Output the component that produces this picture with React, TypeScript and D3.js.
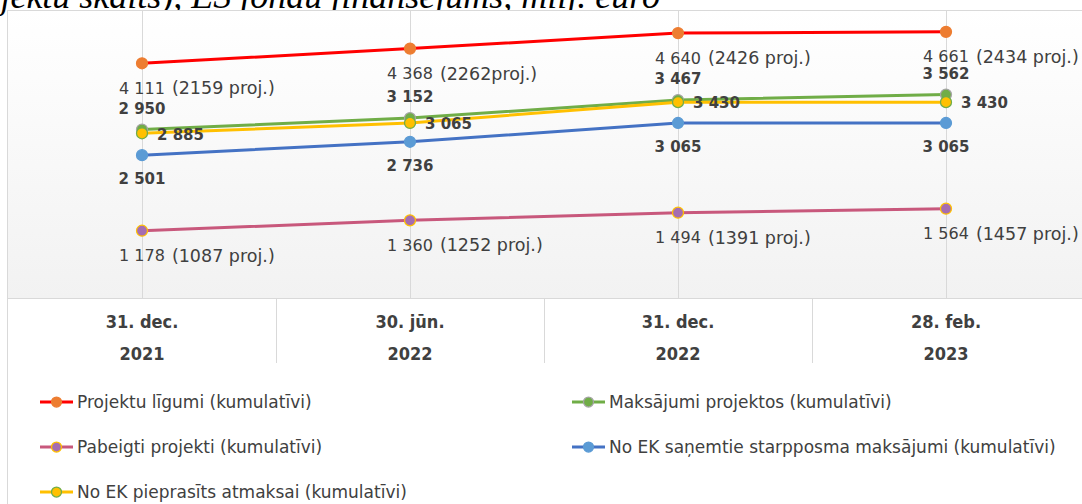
import React, { useRef, useEffect } from "react";
import * as d3 from "d3";

// categories (x axis)
const categories = ["2021-12-31", "2022-06-30", "2022-12-31", "2023-02-28"];
const dateLabels = ["31. dec.", "30. jūn.", "31. dec.", "28. feb."];
const yearLabels = ["2021", "2022", "2022", "2023"];

// series values, milj. euro
const ligumi = [4111, 4368, 4640, 4661];
const ligumiProj = ["(2159 proj.)", "(2262proj.)", "(2426 proj.)", "(2434 proj.)"];
const maksajumi = [2950, 3152, 3467, 3562];
const pieprasits = [2885, 3065, 3430, 3430];
const sanemtie = [2501, 2736, 3065, 3065];
const pabeigti = [1178, 1360, 1494, 1564];
const pabeigtiProj = ["(1087 proj.)", "(1252 proj.)", "(1391 proj.)", "(1457 proj.)"];

const seriesNames = [
  "Projektu līgumi (kumulatīvi)",
  "Maksājumi projektos (kumulatīvi)",
  "Pabeigti projekti (kumulatīvi)",
  "No EK saņemtie starpposma maksājumi (kumulatīvi)",
  "No EK pieprasīts atmaksai (kumulatīvi)",
];

const title = "(projektu skaits), ES fondu finansējums, milj. euro";

const W = 1082;
const H = 504;

export default function App() {
  const ref = useRef<SVGSVGElement>(null);

  useEffect(() => {
    document.body.style.margin = "0";
    const svg = d3.select(ref.current);
    svg.selectAll("*").remove();

    const fmt = d3.formatLocale({ thousands: " ", grouping: [3], decimal: ",", currency: ["", ""] }).format(",d");

    const x = d3.scaleBand().domain(categories).range([8, 1080]);
    const cx = (d: string) => (x(d) as number) + x.bandwidth() / 2;
    const y = d3.scaleLinear().domain([0, 5000]).range([298, 12.5]);

    const series = [
      { name: seriesNames[0], values: ligumi, proj: ligumiProj, line: "#FF0000", fill: "#ED7D31", stroke: "#ED7D31", pos: "below", bold: false },
      { name: seriesNames[1], values: maksajumi, proj: null, line: "#70AD47", fill: "#70AD47", stroke: "#A5A5A5", pos: "above", bold: true },
      { name: seriesNames[2], values: pabeigti, proj: pabeigtiProj, line: "#C8587C", fill: "#A56DB1", stroke: "#FFC000", pos: "below", bold: false },
      { name: seriesNames[3], values: sanemtie, proj: null, line: "#4472C4", fill: "#5B9BD5", stroke: "#5B9BD5", pos: "below", bold: true },
      { name: seriesNames[4], values: pieprasits, proj: null, line: "#FFC000", fill: "#FFC000", stroke: "#70AD47", pos: "right", bold: true },
    ];
    const drawOrder = [0, 2, 3, 1, 4];

    const defs = svg.append("defs");
    const grad = defs.append("linearGradient").attr("id", "bg").attr("x1", 0).attr("y1", 0).attr("x2", 0).attr("y2", 1);
    grad.append("stop").attr("offset", "0%").attr("stop-color", "#ffffff");
    grad.append("stop").attr("offset", "100%").attr("stop-color", "#f2f2f2");

    // title, cut off by the top edge like in the source
    svg.append("text")
      .attr("x", 660)
      .attr("y", 8)
      .attr("text-anchor", "end")
      .attr("font-family", "Liberation Serif")
      .attr("font-style", "italic")
      .attr("font-size", 36)
      .attr("fill", "#000")
      .text(title);

    // plot background
    svg.append("rect")
      .attr("x", 8).attr("y", 10).attr("width", W - 8).attr("height", 288)
      .attr("fill", "url(#bg)");

    // borders
    svg.append("line").attr("x1", 7.5).attr("x2", 7.5).attr("y1", 10).attr("y2", H).attr("stroke", "#d9d9d9");
    svg.append("line").attr("x1", 7.5).attr("x2", W).attr("y1", 10.5).attr("y2", 10.5).attr("stroke", "#d9d9d9");
    svg.append("line").attr("x1", 7.5).attr("x2", W).attr("y1", 298.5).attr("y2", 298.5).attr("stroke", "#d9d9d9");

    // gridlines at categories
    svg.append("g").selectAll("line").data(categories).join("line")
      .attr("x1", (d) => Math.round(cx(d)) + 0.5).attr("x2", (d) => Math.round(cx(d)) + 0.5)
      .attr("y1", 11).attr("y2", 298)
      .attr("stroke", "#d9d9d9");

    // axis table
    const axis = svg.append("g");
    axis.selectAll("line").data(categories.slice(1)).join("line")
      .attr("x1", (d) => Math.round(x(d) as number) + 0.5).attr("x2", (d) => Math.round(x(d) as number) + 0.5)
      .attr("y1", 298).attr("y2", 363)
      .attr("stroke", "#d9d9d9");
    const axisText = axis.selectAll("g.lbl").data(categories).join("g").attr("class", "lbl")
      .attr("font-family", "'DejaVu Sans Condensed', 'DejaVu Sans'")
      .attr("font-stretch", "condensed")
      .attr("font-weight", "bold")
      .attr("font-size", 18)
      .attr("fill", "#404040")
      .attr("text-anchor", "middle");
    axisText.append("text").attr("x", cx).attr("y", 322).attr("dy", "0.35em").text((d, i) => dateLabels[i]);
    axisText.append("text").attr("x", cx).attr("y", 354).attr("dy", "0.35em").text((d, i) => yearLabels[i]);

    // lines
    const line = d3.line<number>().x((d, i) => cx(categories[i])).y((d) => y(d));
    drawOrder.forEach((si) => {
      const s = series[si];
      svg.append("path").datum(s.values).attr("d", line)
        .attr("fill", "none").attr("stroke", s.line).attr("stroke-width", 3).attr("stroke-linecap", "round");
    });
    drawOrder.forEach((si) => {
      const s = series[si];
      svg.append("g").selectAll("circle").data(s.values).join("circle")
        .attr("cx", (d, i) => cx(categories[i])).attr("cy", (d) => y(d)).attr("r", 5.5)
        .attr("fill", s.fill).attr("stroke", s.stroke).attr("stroke-width", 1.25);
    });

    // data labels
    series.forEach((s) => {
      const g = svg.append("g")
        .attr("font-family", "DejaVu Sans")
        .attr("font-size", s.bold ? 15 : 16)
        .attr("font-weight", s.bold ? "bold" : "normal")
        .attr("fill", "#404040");
      s.values.forEach((v, i) => {
        const px = cx(categories[i]);
        const py = y(v);
        const t = g.append("text").attr("dy", "0.35em").text(fmt(v));
        if (s.pos === "below") {
          t.attr("x", px).attr("y", py + (s.proj ? 25 : 24)).attr("text-anchor", "middle");
        } else if (s.pos === "above") {
          t.attr("x", px).attr("y", py - 21).attr("text-anchor", "middle");
        } else {
          t.attr("x", px + 15).attr("y", py + 1).attr("text-anchor", "start");
        }
        if (s.proj) {
          const w = (t.node() as SVGTextElement).getComputedTextLength();
          g.append("text")
            .attr("x", px + w / 2 + 7)
            .attr("y", py + 25)
            .attr("dy", "0.35em")
            .attr("font-size", 17.5)
            .text(s.proj[i]);
        }
      });
    });

    // legend
    const legendPos = [
      [40, 402],
      [572, 402],
      [40, 447],
      [572, 447],
      [40, 492],
    ];
    series.forEach((s, i) => {
      const [lx, ly] = legendPos[i];
      const g = svg.append("g").attr("transform", `translate(${lx},${ly})`);
      g.append("line").attr("x1", 0).attr("x2", 33).attr("y1", 0).attr("y2", 0)
        .attr("stroke", s.line).attr("stroke-width", 3);
      g.append("circle").attr("cx", 16.5).attr("cy", 0).attr("r", 5)
        .attr("fill", s.fill).attr("stroke", s.stroke).attr("stroke-width", 1.25);
      g.append("text").attr("x", 37).attr("y", 0).attr("dy", "0.35em")
        .attr("font-family", "DejaVu Sans").attr("font-size", 17).attr("fill", "#404040")
        .text(s.name);
    });
  }, []);

  return <svg ref={ref} width={W} height={H} style={{ display: "block", background: "#fff" }} />;
}
